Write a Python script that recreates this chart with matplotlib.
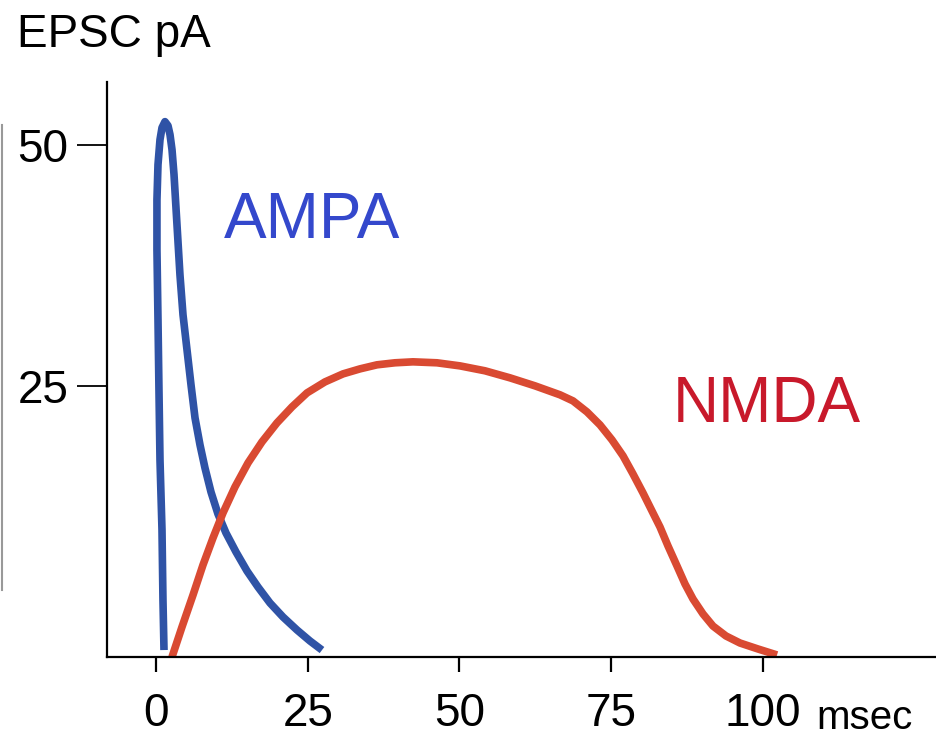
import matplotlib.pyplot as plt
from matplotlib.lines import Line2D

plt.rcParams['font.family'] = ['Liberation Sans', 'DejaVu Sans']

# AMPA current (msec, pA)
ampa_t = [1.32, 1.15, 0.99, 0.66, 0.49, 0.33, 0.16, 0.16, 0.33, 0.66, 0.99, 1.48,
          1.98, 2.31, 2.64, 2.97, 3.46, 3.95, 4.45, 5.11, 5.77, 6.43, 7.25, 8.07,
          9.06, 10.21, 11.53, 13.18, 14.99, 16.80, 18.78, 20.92, 23.23, 25.37, 27.35]
ampa_i = [-2.39, 2.80, 10.06, 17.32, 24.59, 31.85, 39.11, 44.29, 47.93, 50.52, 51.76, 52.39,
          51.97, 51.04, 49.48, 46.89, 41.70, 36.51, 32.37, 28.73, 25.10, 21.68, 18.88, 16.49,
          14.00, 11.72, 9.75, 7.78, 5.81, 4.15, 2.49, 1.04, -0.31, -1.45, -2.39]

# NMDA current (msec, pA)
nmda_t = [2.64, 4.28, 6.10, 7.74, 9.39, 11.04, 13.01, 15.16, 17.46, 19.93, 22.41, 24.88,
          27.84, 30.81, 33.61, 36.41, 39.37, 42.34, 46.29, 50.08, 54.20, 58.32, 62.44,
          66.56, 68.70, 71.00, 73.15, 75.12, 76.94, 78.58, 80.23, 81.71, 83.03, 84.35,
          85.83, 87.15, 88.47, 90.12, 91.76, 93.90, 96.21, 99.18, 102.31]
nmda_i = [-3.11, 0.00, 3.32, 6.43, 9.23, 11.83, 14.52, 17.01, 19.19, 21.16, 22.82, 24.27,
          25.41, 26.24, 26.76, 27.18, 27.39, 27.49, 27.39, 27.07, 26.56, 25.83, 25.00,
          24.07, 23.44, 22.30, 20.95, 19.40, 17.74, 15.87, 13.90, 12.03, 10.37, 8.40,
          6.33, 4.46, 2.90, 1.35, 0.10, -0.93, -1.66, -2.28, -2.90]

x_ticks = [0, 25, 50, 75, 100]
y_ticks = [25, 50]

W, H = 936, 739
fig = plt.figure(figsize=(W / 100, H / 100), dpi=100)
ax = fig.add_axes([107 / W, (H - 657) / H, 1 - 107 / W, (657 - 82) / H])

ax.plot(ampa_t, ampa_i, color='#2f53a6', lw=5.5, solid_joinstyle='round', solid_capstyle='butt')
ax.plot(nmda_t, nmda_i, color='#d94a32', lw=5.5, solid_joinstyle='round', solid_capstyle='butt')

ax.set_xlim(-8.07, 128.5)
ax.set_ylim(-3.11, 56.5)
for s in ['top', 'right']:
    ax.spines[s].set_visible(False)
for s in ['left', 'bottom']:
    ax.spines[s].set_linewidth(1.6)

ax.set_xticks(x_ticks)
ax.set_xticklabels([str(v) for v in x_ticks], fontsize=33)
ax.set_yticks(y_ticks)
ax.set_yticklabels([str(v) for v in y_ticks], fontsize=33)
ax.tick_params(axis='y', length=21.6, width=1.3, pad=6)
ax.tick_params(axis='x', length=11, width=1.6, pad=14)

fig.text(17 / W, 1 - 47 / H, 'EPSC pA', fontsize=33, va='baseline', ha='left')
fig.text(224 / W, 1 - 238 / H, 'AMPA', fontsize=46, color='#3448cc', va='baseline', ha='left')
fig.text(673 / W, 1 - 422 / H, 'NMDA', fontsize=46, color='#c8192b', va='baseline', ha='left')
fig.text(816 / W, 1 - 729 / H, 'msec', fontsize=29, va='baseline', ha='left')

fig.add_artist(Line2D([1.5 / W, 1.5 / W], [1 - 125 / H, 1 - 590 / H], color='#999999', lw=1.5))

fig.savefig('out.png', dpi=100)
